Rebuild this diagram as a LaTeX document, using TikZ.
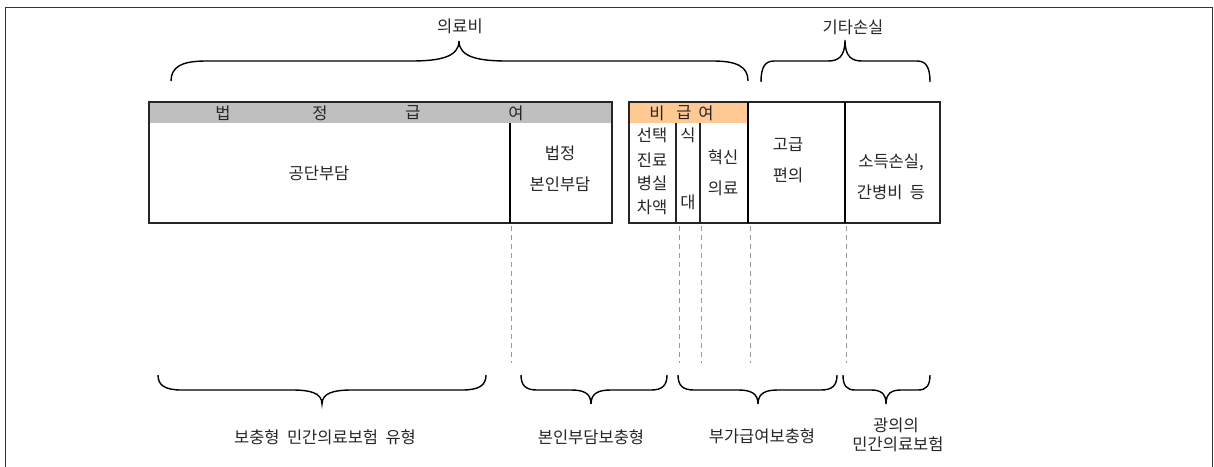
\documentclass[tikz,border=0pt]{standalone}
\usepackage{fontspec}
\setmainfont{Noto Sans CJK KR}
\begin{document}
\begin{tikzpicture}[x=1pt,y=-1pt,
  txt/.style={inner sep=0pt,text=black!85,font=\fontsize{16.5}{19}\selectfont},
  boxline/.style={draw=black!85,line width=1.5pt},
  divline/.style={draw=black,line width=2pt},
  thinline/.style={draw=black!85,line width=1.3pt},
  guide/.style={draw=black!40,line width=0.7pt,dash pattern=on 5pt off 4pt},
  bracestyle/.style={draw=black,line width=1.4pt}]
\newcommand{\mybrace}[8]{%
  \draw[bracestyle] (#1,#4) .. controls (#1,{#4+0.7*(#5-#4)}) and ({#1+0.3*#7},#5) .. ({#1+#7},#5)
    -- ({#3-#8},#5) .. controls ({#3-0.4*#8},#5) and (#3,{#5+0.2*(#6-#5)}) .. (#3,#6)
    .. controls (#3,{#5+0.2*(#6-#5)}) and ({#3+0.4*#8},#5) .. ({#3+#8},#5)
    -- ({#2-#7},#5) .. controls ({#2-0.3*#7},#5) and (#2,{#4+0.7*(#5-#4)}) .. (#2,#4);}
\useasboundingbox (0,0) rectangle (1214,466);
% outer frame
\draw[draw=black!80,line width=1pt] (5.5,7.5) rectangle (1212.5,467.5);

% box 1: legal benefits
\fill[fill=black!25] (149,102) rectangle (612,123);
\draw[boxline] (149,102) rectangle (612,223);
\coordinate (d1t) at (510,123);
\coordinate (d1b) at (510,223);
\draw[divline] (d1t) -- (d1b);

% box 2: non-benefits and others
\fill[fill={rgb,255:red,255;green,201;blue,148}] (629,102) rectangle (748,123);
\draw[boxline] (629,102) rectangle (940,223);
\coordinate (d2t) at (676,123); \coordinate (d2b) at (676,223);
\coordinate (d3t) at (700,123); \coordinate (d3b) at (700,223);
\coordinate (d4t) at (748,102); \coordinate (d4b) at (748,223);
\coordinate (d5t) at (845,102); \coordinate (d5b) at (845,223);
\draw[thinline] (d2t) -- (d2b);
\draw[thinline] (d3t) -- (d3b);
\draw[divline] (d4t) -- (d4b);
\draw[divline] (d5t) -- (d5b);

% dashed guide lines
\coordinate (g1) at (511,363);
\coordinate (g2) at (679,363);
\coordinate (g3) at (701,363);
\coordinate (g4) at (750,363);
\coordinate (g5) at (846,363);
\draw[guide] (511,226) -- (g1);
\draw[guide] (679,226) -- (g2);
\draw[guide] (701,226) -- (g3);
\draw[guide] (750,226) -- (g4);
\draw[guide] (846,226) -- (g5);

% top braces
\mybrace{171}{748}{459}{81}{61}{41}{35}{48}
\mybrace{761}{930}{845}{82}{61}{40}{13}{17}
% bottom braces
\mybrace{158}{486}{322}{375}{390}{404}{24}{30}
\mybrace{521}{667}{591}{375}{390}{404}{16}{20}
\mybrace{678}{837}{758}{375}{390}{404}{16}{20}
\mybrace{843}{930}{886}{375}{390}{404}{12}{15}

% labels
\node[txt] (medical) at (460,26) {의료비};
\node[txt] (other) at (853,27) {기타손실};

\node[txt] (h1) at (223,113) {법};
\node[txt] (h2) at (320,113) {정};
\node[txt] (h3) at (413,113) {급};
\node[txt] (h4) at (516,113) {여};

\node[txt] (gong) at (319,173) {공단부담};
\node[txt] (bj1) at (560,153) {법정};
\node[txt] (bj2) at (560,184) {본인부담};

\node[txt] (n1) at (657,113) {비};
\node[txt] (n2) at (684,113) {급};
\node[txt] (n3) at (706,113) {여};

\node[txt] (s1) at (652,135) {선택};
\node[txt] (s2) at (652,160) {진료};
\node[txt] (s3) at (652,183) {병실};
\node[txt] (s4) at (652,207) {차액};
\node[txt] (m1) at (688,135) {식};
\node[txt] (m2) at (688,202) {대};
\node[txt] (i1) at (723,157) {혁신};
\node[txt] (i2) at (723,188) {의료};
\node[txt] (c1) at (788,145) {고급};
\node[txt] (c2) at (788,175) {편의};
\node[txt] (l1) at (891,162) {소득손실,};
\node[txt] (l2) at (891,192) {간병비\ \ 등};

\node[txt] (b1) at (325,437) {보충형\ \ 민간의료보험\ \ 유형};
\node[txt] (b2) at (591,437) {본인부담보충형};
\node[txt] (b3) at (762,436) {부가급여보충형};
\node[txt] (b4a) at (896,425) {광의의};
\node[txt] (b4b) at (898,444) {민간의료보험};
\end{tikzpicture}
\end{document}
